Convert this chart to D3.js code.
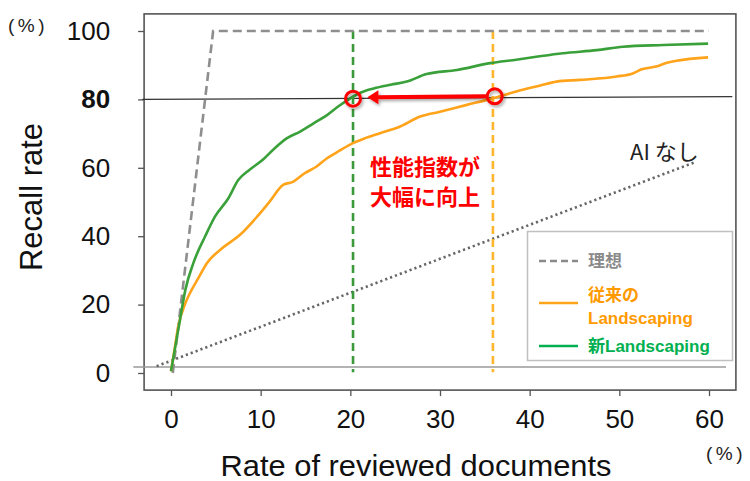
<!DOCTYPE html>
<html>
<head>
<meta charset="utf-8">
<script src="https://cdn.jsdelivr.net/npm/d3@7/dist/d3.min.js"></script>
<style>
  html, body { margin: 0; padding: 0; background: #fff; }
  svg { display: block; }
  text { font-family: "Liberation Sans", Arial, "Noto Sans CJK JP", sans-serif; }
</style>
</head>
<body>
<svg id="chart" width="750" height="481"></svg>
<script>
// ---------- data ----------
const xTicks = [0, 10, 20, 30, 40, 50, 60];
const yTicks = [0, 20, 40, 60, 80, 100];

// 新Landscaping
const newX = [0, 0.5, 1.0, 1.6, 2.5, 3.8, 4.9, 6.4, 7.5, 8.7, 10.3, 11.6, 12.9, 14.4, 15.9, 17.4, 18.8, 20.0, 21.0, 22.6, 24.5, 26.3, 28.5, 31.9, 35.6, 38.5, 41.1, 43.7, 47.5, 50.4, 54.9, 59.9];
const newY = [0.5, 8, 15.5, 24.3, 32.2, 39.9, 45.7, 51.1, 56.4, 59.3, 62.5, 65.8, 68.6, 70.6, 73.0, 75.4, 78.2, 80.3, 81.8, 83.2, 84.3, 85.2, 87.4, 88.6, 90.6, 91.6, 92.6, 93.5, 94.4, 95.4, 95.9, 96.3];

// 従来のLandscaping
const oldX = [0, 0.4, 0.8, 1.6, 2.3, 3.0, 4.0, 5.7, 7.7, 9.6, 11.0, 12.5, 13.6, 14.9, 16.2, 17.4, 18.8, 20.3, 21.5, 23.3, 25.5, 27.8, 30.0, 33.0, 35.9, 38.5, 41.1, 43.0, 45.6, 49.7, 51.5, 52.5, 54.1, 55.3, 56.4, 59.9];
const oldY = [0.5, 7, 13.5, 20.4, 24.3, 27.5, 32.1, 36.5, 40.4, 45.7, 50.1, 55.0, 55.9, 58.4, 60.3, 62.8, 65.0, 67.2, 68.5, 70.1, 72.0, 75.0, 76.4, 78.4, 80.3, 82.3, 84.0, 85.2, 85.7, 86.7, 87.6, 88.8, 89.6, 90.7, 91.3, 92.3];

// 理想
const idealX = [0.2, 4.7, 60];
const idealY = [0, 100, 100];

// AI なし
const noAiX = [-1.6, 58.4];
const noAiY = [2.0, 61.6];

// reference values
const recallTarget = [80, 80.8];       // black reference line (slightly tilted)
const refLineX = [-3.2, 62.6];
const zeroLineX = [-4.2, 61.9];
const zeroLineY = 1.75;
const newAt80 = [20.3, 80.2];
const oldAt80 = [36.1, 80.9];
const arrowTipX = 21.9;

const legendItems = [
  { label: ["理想"], color: "#8a8a8a", text: "#8a8a8a", dash: "7,4" },
  { label: ["従来の", "Landscaping"], color: "#ffa31a", text: "#ff9a00", dash: null },
  { label: ["新Landscaping"], color: "#00b050", text: "#00b050", dash: null }
];

// ---------- drawing ----------
const svg = d3.select("#chart");
const x = d3.scaleLinear().domain([0, 60]).range([171, 709]);
const y = d3.scaleLinear().domain([0, 100]).range([373, 31]);

const defs = svg.append("defs");
const f = defs.append("filter").attr("id", "shadow").attr("x", "-50%").attr("y", "-50%").attr("width", "200%").attr("height", "200%");
f.append("feDropShadow").attr("dx", 1.5).attr("dy", 2).attr("stdDeviation", 1.5).attr("flood-color", "#000").attr("flood-opacity", 0.35);

// frame box
svg.append("rect")
  .attr("x", x(-3)).attr("y", y(105))
  .attr("width", x(63) - x(-3)).attr("height", y(-5) - y(105))
  .attr("fill", "none").attr("stroke", "#555").attr("stroke-width", 1.6);

// axes
const yAxis = d3.axisLeft(y).tickValues(yTicks).tickSize(6).tickPadding(28).tickFormat(d3.format("d"));
const gy = svg.append("g").attr("transform", `translate(${x(-3)},0)`).call(yAxis);
gy.select(".domain").remove();
gy.selectAll(".tick line").attr("stroke", "#555").attr("stroke-width", 1.3);
gy.selectAll(".tick text")
  .attr("font-size", 26).attr("fill", "#111")
  .attr("font-weight", d => d === 80 ? "bold" : "normal")
  .style("font-family", '"Liberation Sans", Arial, sans-serif');

const xAxis = d3.axisBottom(x).tickValues(xTicks).tickSize(6).tickPadding(13);
const gx = svg.append("g").attr("transform", `translate(0,${y(-5)})`).call(xAxis);
gx.select(".domain").remove();
gx.selectAll(".tick line").attr("stroke", "#555").attr("stroke-width", 1.3);
gx.selectAll(".tick text").attr("font-size", 26).attr("fill", "#111")
  .style("font-family", '"Liberation Sans", Arial, sans-serif');

// zero gray line
svg.append("line")
  .attr("x1", x(zeroLineX[0])).attr("x2", x(zeroLineX[1]))
  .attr("y1", y(zeroLineY)).attr("y2", y(zeroLineY))
  .attr("stroke", "#9a9a9a").attr("stroke-width", 1.6);

// 80% reference line
svg.append("line")
  .attr("x1", x(refLineX[0])).attr("x2", x(refLineX[1]))
  .attr("y1", y(recallTarget[0])).attr("y2", y(recallTarget[1]))
  .attr("stroke", "#333").attr("stroke-width", 1.3);

// No-AI dotted line
const line = d3.line().x(d => x(d[0])).y(d => y(d[1]));
svg.append("path")
  .attr("d", line(d3.zip(noAiX, noAiY)))
  .attr("fill", "none").attr("stroke", "#666").attr("stroke-width", 2.6)
  .attr("stroke-dasharray", "2.2,3");

// vertical dashed lines
svg.append("line")
  .attr("x1", x(newAt80[0])).attr("x2", x(newAt80[0]))
  .attr("y1", y(100)).attr("y2", y(0.2))
  .attr("stroke", "#3a9a3a").attr("stroke-width", 2.6).attr("stroke-dasharray", "8,5");
svg.append("line")
  .attr("x1", x(35.9)).attr("x2", x(35.9))
  .attr("y1", y(100)).attr("y2", y(0.2))
  .attr("stroke", "#ffb52e").attr("stroke-width", 2.6).attr("stroke-dasharray", "8,5");

// ideal dashed
svg.append("path")
  .attr("d", line(d3.zip(idealX, idealY)))
  .attr("fill", "none").attr("stroke", "#8e8e8e").attr("stroke-width", 2.6)
  .attr("stroke-dasharray", "9,5");

// curves
svg.append("path")
  .attr("d", line.curve(d3.curveMonotoneX)(d3.zip(oldX, oldY)))
  .attr("fill", "none").attr("stroke", "#ffa31a").attr("stroke-width", 2.6);
svg.append("path")
  .attr("d", line.curve(d3.curveMonotoneX)(d3.zip(newX, newY)))
  .attr("fill", "none").attr("stroke", "#3aa13a").attr("stroke-width", 2.6);

// red arrow and circles
const red = "#ff0000";
const ann = svg.append("g").attr("filter", "url(#shadow)");
ann.append("line")
  .attr("x1", x(oldAt80[0]) - 8).attr("x2", x(arrowTipX) + 8)
  .attr("y1", y(oldAt80[1])).attr("y2", y(oldAt80[1]) + 1)
  .attr("stroke", red).attr("stroke-width", 4);
const tipX = x(arrowTipX), tipY = y(oldAt80[1]) + 1;
ann.append("path")
  .attr("d", `M${tipX},${tipY} L${tipX + 11},${tipY - 7} L${tipX + 11},${tipY + 7} Z`)
  .attr("fill", red);
[newAt80, oldAt80].forEach(p => {
  ann.append("circle")
    .attr("cx", x(p[0])).attr("cy", y(p[1])).attr("r", 7.5)
    .attr("fill", "none").attr("stroke", red).attr("stroke-width", 3);
});

// annotation text
svg.append("text").attr("x", x(22.2)).attr("y", 175)
  .attr("font-size", 22).attr("font-weight", "bold").attr("fill", red)
  .style("font-family", '"Noto Sans CJK JP", sans-serif')
  .text("性能指数が");
svg.append("text").attr("x", x(22.2)).attr("y", 205)
  .attr("font-size", 22).attr("font-weight", "bold").attr("fill", red)
  .style("font-family", '"Noto Sans CJK JP", sans-serif')
  .text("大幅に向上");

// AI なし label
svg.append("text").attr("x", x(51.2)).attr("y", 160)
  .attr("font-size", 22).attr("fill", "#222")
  .style("font-family", '"Noto Sans CJK JP", sans-serif')
  .text("AI なし");

// legend
const lg = svg.append("g");
lg.append("rect").attr("x", 527.5).attr("y", 231.5).attr("width", 205).attr("height", 129)
  .attr("fill", "#fff").attr("stroke", "#c0c0c0").attr("stroke-width", 1.5);
const rowY = [261, 303, 346];
const twoLineY = [295, 318];
legendItems.forEach((it, i) => {
  lg.append("line").attr("x1", 539).attr("x2", 578).attr("y1", rowY[i]).attr("y2", rowY[i])
    .attr("stroke", it.color).attr("stroke-width", 2.6)
    .attr("stroke-dasharray", it.dash);
  it.label.forEach((t, k) => {
    lg.append("text").attr("x", 588).attr("y", it.label.length === 1 ? rowY[i] : twoLineY[k])
      .attr("dy", "0.35em")
      .attr("font-size", 17).attr("font-weight", "bold").attr("fill", it.text)
      .style("font-family", '"Liberation Sans", Arial, "Noto Sans CJK JP", sans-serif')
      .text(t);
  });
});

// axis titles
svg.append("text")
  .attr("transform", `translate(42,197) rotate(-90)`)
  .attr("text-anchor", "middle").attr("font-size", 31).attr("fill", "#111")
  .text("Recall rate");
svg.append("text")
  .attr("x", 416).attr("y", 476).attr("text-anchor", "middle")
  .attr("font-size", 29).attr("fill", "#111")
  .attr("textLength", 391).attr("lengthAdjust", "spacingAndGlyphs")
  .text("Rate of reviewed documents");

// unit labels
svg.append("text").attr("x", 8).attr("y", 25).attr("dy", "0.35em")
  .attr("font-size", 19).attr("fill", "#222").attr("letter-spacing", 3.5)
  .text("(%)");
svg.append("text").attr("x", 706).attr("y", 453).attr("dy", "0.35em")
  .attr("font-size", 19).attr("fill", "#222").attr("letter-spacing", 3.5)
  .text("(%)");
</script>
</body>
</html>
